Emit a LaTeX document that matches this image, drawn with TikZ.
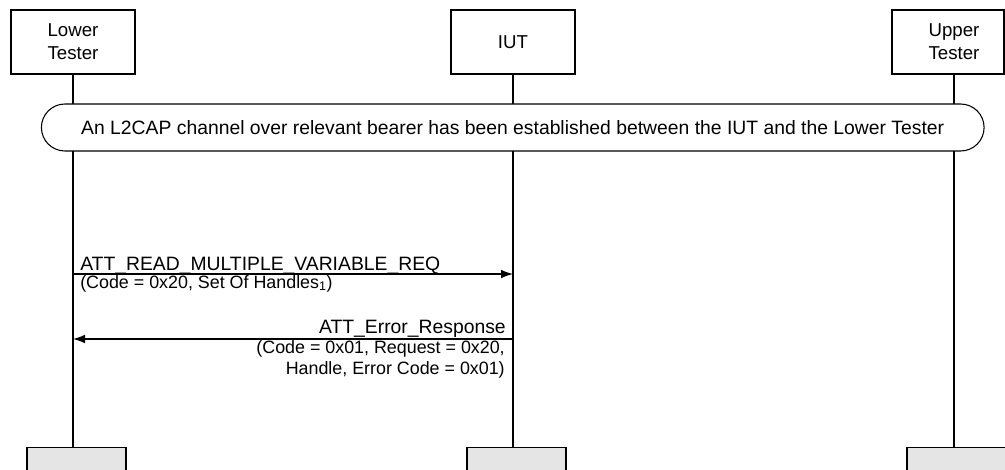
\documentclass[tikz,border=0pt]{standalone}
\usepackage{fontspec}
\setmainfont{Liberation Sans}
\usetikzlibrary{arrows.meta,shapes.misc}
\begin{document}
\begin{tikzpicture}[x=0.75pt,y=-0.75pt,
  font=\fontsize{14}{17.5}\selectfont,
  box/.style={draw, line width=0.8pt, inner sep=0pt, align=center},
  endbox/.style={draw, line width=0.8pt, fill=black!10, inner sep=0pt, minimum width=74.25pt, minimum height=30pt, anchor=north},
  life/.style={line width=0.8pt},
  msg/.style={line width=0.9pt, -{Latex[length=9pt,width=6.5pt]}},
  lbl/.style={inner sep=0pt, font=\fontsize{14.5}{17.5}\selectfont},
  small/.style={inner sep=0pt, font=\fontsize{13.4}{15.75}\selectfont}]
\useasboundingbox (0,0) rectangle (1005,470);
\clip (0,0) rectangle (1005,470);
% actors
\node[box, minimum width=93pt, minimum height=48pt] (lt) at (73,42) {Lower\\Tester};
\node[box, minimum width=93pt, minimum height=48pt] (iut) at (513,42) {IUT};
\node[box, minimum width=84pt, minimum height=48pt] (utbox) at (948,42) {};
\node[inner sep=0pt, align=center] (ut) at (954,42) {Upper\\Tester};
% end boxes
\node[endbox] (ltend) at (76.5,447) {};
\node[endbox] (iutend) at (516.5,447) {};
\node[endbox] (utend) at (956.5,447) {};
% lifelines
\draw[life] (lt.south) -- (lt.south |- ltend.north);
\draw[life] (iut.south) -- (iut.south |- iutend.north);
\draw[life] (utbox.south -| ut) -- (ut |- utend.north);
% banner
\node[draw, fill=white, line width=0.8pt, rounded rectangle, inner sep=0pt,
      minimum width=707pt, minimum height=35.25pt, font=\fontsize{14.5}{17.5}\selectfont] (ban) at (512.75,127.5)
  {An L2CAP channel over relevant bearer has been established between the IUT and the Lower Tester};
% message 1
\coordinate (m1a) at (73,274);
\coordinate (m1b) at (513,274);
\draw[msg] (m1a) -- (m1b);
\node[lbl, anchor=base west] (m1t) at (80,270) {ATT\_READ\_MULTIPLE\_VARIABLE\_REQ};
\node[small, anchor=base west] (m1s) at (80,288) {(Code = 0x20, Set Of Handles\textsubscript{1})};
% message 2
\coordinate (m2a) at (513,339);
\coordinate (m2b) at (73,339);
\draw[msg] (m2a) -- (m2b);
\node[lbl, anchor=base east] (m2t) at (506,333) {ATT\_Error\_Response};
\node[small, anchor=base east] (m2s) at (505,353) {(Code = 0x01, Request = 0x20,};
\node[small, anchor=base east] (m2u) at (505,374) {Handle, Error Code = 0x01)};
\end{tikzpicture}
\end{document}
